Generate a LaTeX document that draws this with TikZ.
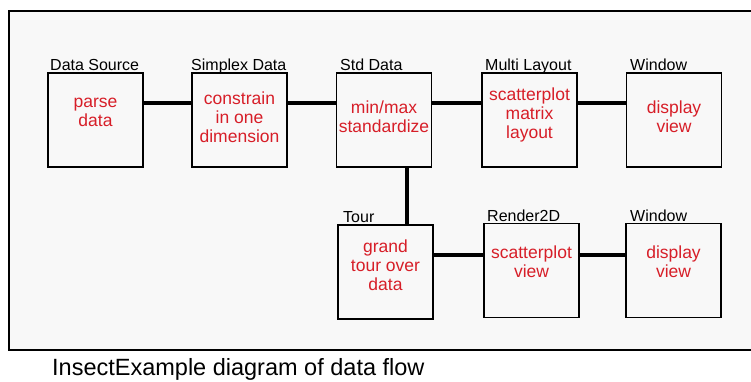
\documentclass[tikz,border=0pt]{standalone}
\usepackage{fontspec}
\setmainfont{Liberation Sans}
\definecolor{txtred}{RGB}{215,30,40}
\definecolor{panel}{RGB}{248,248,248}
\begin{document}
\begin{tikzpicture}[x=1pt,y=-1pt,
  box/.style={draw=black,line width=1.5pt,minimum width=95pt,minimum height=94pt,inner sep=0pt},
  lbl/.style={anchor=base west,inner sep=0pt,font=\fontsize{16}{18}\selectfont},
  red/.style={text=txtred,align=center,inner sep=0pt,font=\fontsize{17.5}{19}\selectfont},
  wire/.style={line width=3.2pt}]
\useasboundingbox (0,0) rectangle (751,381);
\fill[white] (0,0) rectangle (751,381);
\draw[line width=1.5pt,fill=panel] (9,11) rectangle (770,350);
% top row
\node[box] (A) at (95.5,120) {};
\node[box] (B) at (239.5,120) {};
\node[box] (C) at (384,120) {};
\node[box] (D) at (529.5,120) {};
\node[box] (E) at (674,120) {};
% bottom row
\node[box] (F) at (385.5,272) {};
\node[box] (G) at (531.5,270.5) {};
\node[box] (H) at (673.5,270.5) {};
% labels
\node[lbl] (lA) at (50,70) {Data Source};
\node[lbl] (lB) at (191,70) {Simplex Data};
\node[lbl] (lC) at (340,70) {Std Data};
\node[lbl] (lD) at (485,70) {Multi Layout};
\node[lbl] (lE) at (630,70) {Window};
\node[lbl] (lF) at (343,222) {Tour};
\node[lbl] (lG) at (487,221) {Render2D};
\node[lbl] (lH) at (630,221) {Window};
% red texts
\node[red] (tA) at (95.5,112.5) {parse\\data};
\node[red] (tB) at (239.5,117) {constrain\\in one\\dimension};
\node[red] (tC) at (384,116.5) {min/max\\standardize};
\node[red] (tD) at (529.5,115) {scatterplot\\matrix\\layout};
\node[red] (tE) at (674,117) {display\\view};
\node[red] (tF) at (385.5,265) {grand\\tour over\\data};
\node[red] (tG) at (531.5,261.5) {scatterplot\\view};
\node[red] (tH) at (673.5,261.5) {display\\view};
% connectors
\draw[wire] ([yshift=17pt]A.east) -- ([yshift=17pt]B.west);
\draw[wire] ([yshift=17pt]B.east) -- ([yshift=17pt]C.west);
\draw[wire] ([yshift=17pt]C.east) -- ([yshift=17pt]D.west);
\draw[wire] ([yshift=17pt]D.east) -- ([yshift=17pt]E.west);
\draw[wire] ([xshift=23pt]C.south) -- ([xshift=23pt]C.south |- F.north);
\draw[wire] ([yshift=15.5pt]G.west -| F.east) -- ([yshift=15.5pt]G.west);
\draw[wire] ([yshift=15.5pt]G.east) -- ([yshift=15.5pt]H.west);
% caption
\node[anchor=base west,inner sep=0pt,font=\fontsize{23.5}{26}\selectfont] (cap) at (52,375) {InsectExample diagram of data flow};
\end{tikzpicture}
\end{document}
